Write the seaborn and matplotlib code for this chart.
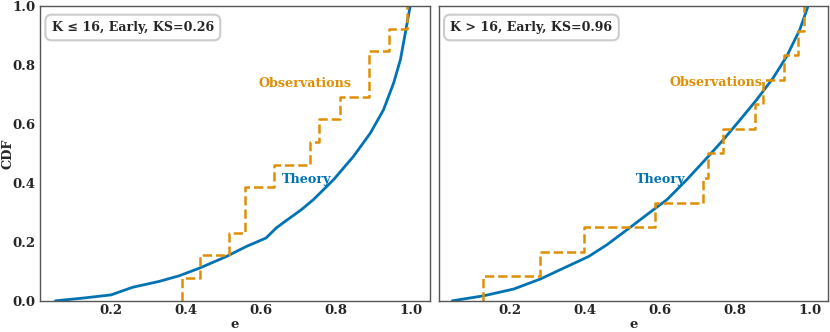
import numpy as np
import matplotlib
matplotlib.use("Agg")
import matplotlib.pyplot as plt
import seaborn as sns

# theory CDF curves
theory_e_low = [0.052, 0.124, 0.2, 0.258, 0.329, 0.382, 0.436, 0.507, 0.56, 0.613,
                0.64, 0.658, 0.707, 0.739, 0.793, 0.846, 0.891, 0.926, 0.953,
                0.971, 0.984, 0.997]
theory_cdf_low = [0.0, 0.009, 0.02, 0.046, 0.066, 0.085, 0.111, 0.15, 0.184, 0.213,
                  0.247, 0.264, 0.309, 0.343, 0.411, 0.49, 0.569, 0.648, 0.739,
                  0.818, 0.908, 1.0]
theory_e_high = [0.047, 0.131, 0.211, 0.282, 0.344, 0.41, 0.459, 0.521, 0.583, 0.619,
                 0.672, 0.725, 0.769, 0.814, 0.858, 0.902, 0.938, 0.973, 0.995]
theory_cdf_high = [0.0, 0.017, 0.04, 0.074, 0.111, 0.15, 0.19, 0.249, 0.309, 0.343,
                   0.411, 0.484, 0.546, 0.614, 0.682, 0.756, 0.829, 0.92, 1.0]

# observed eccentricities
obs_low = [0.389, 0.436, 0.513, 0.558, 0.558, 0.633, 0.729, 0.755, 0.810, 0.887,
           0.887, 0.940, 0.988]
obs_high = [0.129, 0.280, 0.399, 0.586, 0.716, 0.729, 0.768, 0.853, 0.876, 0.931,
            0.969, 0.983]

titles = ["K \u2264 16, Early, KS=0.26", "K > 16, Early, KS=0.96"]
obs_label_pos = [(0.716, 0.738), (0.750, 0.740)]
theory_label_pos = [(0.721, 0.413), (0.602, 0.413)]

sns.set_style("white")
plt.rcParams["font.family"] = ["DejaVu Serif"]
plt.rcParams["font.weight"] = "bold"
plt.rcParams["axes.labelweight"] = "bold"

pal = sns.color_palette("colorblind")
blue, orange = pal[0], pal[1]

fig, axes = plt.subplots(1, 2, figsize=(8.3, 3.32), dpi=100, sharey=True)
fig.subplots_adjust(left=0.0482, right=0.998, top=0.982, bottom=0.094, wspace=0.023)

panels = [(theory_e_low, theory_cdf_low, obs_low), (theory_e_high, theory_cdf_high, obs_high)]
for i, (ax, (te, tc, obs)) in enumerate(zip(axes, panels)):
    sns.lineplot(x=te, y=tc, ax=ax, color=blue, lw=2.0, sort=False, estimator=None)
    xs = np.sort(obs)
    ys = np.arange(1, len(xs) + 1) / len(xs)
    xs = np.concatenate([[xs[0]], xs])
    ys = np.concatenate([[0.0], ys])
    sns.lineplot(x=xs, y=ys, ax=ax, color=orange, lw=1.8, ls="--",
                 drawstyle="steps-post", sort=False, estimator=None)

    ax.set_xlim(0.0107, 1.049)
    ax.set_ylim(0, 1.0)
    ax.set_xticks([0.2, 0.4, 0.6, 0.8, 1.0])
    ax.set_yticks([0.0, 0.2, 0.4, 0.6, 0.8, 1.0])
    ax.tick_params(direction="in", length=4, width=0.8, labelsize=9.5, color="#444444")
    ax.tick_params(axis="x", pad=2.5)
    for lab in ax.get_xticklabels() + ax.get_yticklabels():
        lab.set_fontweight("bold")
    for sp in ax.spines.values():
        sp.set_color("#555555")
        sp.set_linewidth(1.0)
    ax.set_xlabel("e", fontsize=9.5, fontweight="bold", labelpad=0.5)

    ax.text(0.030, 0.927, titles[i], transform=ax.transAxes, fontsize=9.1,
            fontweight="bold", va="center", ha="left",
            bbox=dict(boxstyle="round,pad=0.5", fc="white", ec="#cccccc", lw=1.5))
    ax.text(*obs_label_pos[i], "Observations", color=orange, fontsize=9.2,
            fontweight="bold", ha="center", va="center")
    ax.text(*theory_label_pos[i], "Theory", color=blue, fontsize=9.2,
            fontweight="bold", ha="center", va="center")

axes[0].set_ylabel("CDF", fontsize=9.3, fontweight="bold", va="center")
axes[0].yaxis.set_label_coords(-0.083, 0.5)
axes[1].set_ylabel("")

fig.savefig("out.png", dpi=100)
